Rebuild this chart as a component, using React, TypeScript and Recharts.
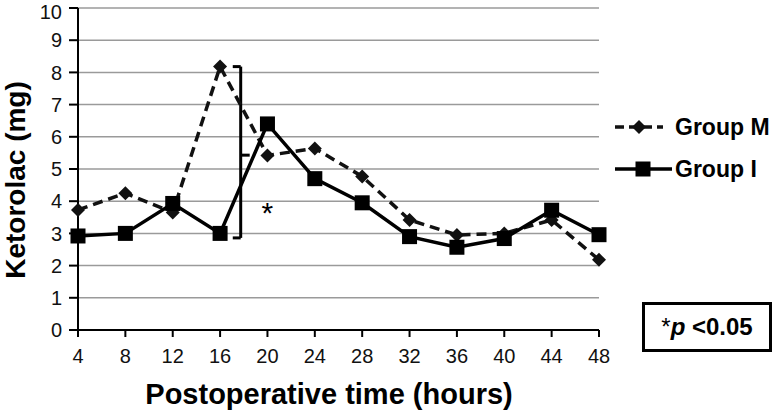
import React from 'react'
import {
  LineChart,
  Line,
  XAxis,
  YAxis,
  CartesianGrid,
  Legend,
  ReferenceLine,
  ReferenceDot,
  Customized,
} from 'recharts'

// postoperative hours
const hours = [4, 8, 12, 16, 20, 24, 28, 32, 36, 40, 44, 48]

// ketorolac consumption (mg)
const groupM = [3.73, 4.25, 3.65, 8.18, 5.42, 5.64, 4.77, 3.42, 2.95, 3.0, 3.42, 2.18]
const groupI = [2.92, 3.0, 3.93, 3.0, 6.4, 4.7, 3.95, 2.9, 2.57, 2.84, 3.72, 2.96]

const yTicks = [0, 1, 2, 3, 4, 5, 6, 7, 8, 9, 10]

const FONT = "'Liberation Sans', Arial, sans-serif"

const data = hours.map((h, i) => ({ hour: h, m: groupM[i], g: groupI[i] }))

const Diamond = ({ cx, cy }: any) => (
  <polygon
    points={`${cx},${cy - 7} ${cx + 7},${cy} ${cx},${cy + 7} ${cx - 7},${cy}`}
    fill="#111"
  />
)

const Square = ({ cx, cy }: any) => (
  <rect x={cx - 7.5} y={cy - 7.5} width={15} height={15} fill="#000" />
)

const LegendBox = () => (
  <svg width={162} height={90} style={{ display: 'block', overflow: 'visible' }}>
    <line x1={3} y1={27} x2={51} y2={27} stroke="#111" strokeWidth={3.5} strokeDasharray="9 5" />
    <Diamond cx={27} cy={27} />
    <text x={63} y={27} dy="0.355em" fontSize={23} fontWeight="bold" fontFamily={FONT} fill="#000">
      Group M
    </text>
    <line x1={3} y1={69} x2={60} y2={69} stroke="#000" strokeWidth={3.5} />
    <Square cx={31} cy={69} />
    <text x={63} y={69} dy="0.355em" fontSize={23} fontWeight="bold" fontFamily={FONT} fill="#000">
      Group I
    </text>
  </svg>
)

const Titles = () => (
  <g fontFamily={FONT} fontWeight="bold" fill="#000">
    <text x={25} y={180} transform="rotate(-90 25 180)" textAnchor="middle" fontSize={28}>
      Ketorolac (mg)
    </text>
    <text x={329} y={404} textAnchor="middle" fontSize={29}>
      Postoperative time (hours)
    </text>
  </g>
)

export default function App() {
  const tickStyle = { fontSize: 20, fill: '#111', fontFamily: FONT }
  const bracket = { stroke: '#000', strokeWidth: 3, ifOverflow: 'visible' as const }

  return (
    <div
      style={{
        position: 'absolute',
        left: 0,
        top: 0,
        width: 774,
        height: 410,
        background: '#fff',
        fontFamily: FONT,
      }}
    >
      <LineChart
        width={774}
        height={410}
        data={data}
        margin={{ top: 8, right: 175, bottom: 0, left: 0 }}
      >
        <CartesianGrid vertical={false} stroke="#9a9a9a" strokeWidth={1.5} />
        <XAxis
          dataKey="hour"
          type="number"
          domain={[4, 48]}
          ticks={hours}
          height={80}
          tick={tickStyle}
          tickSize={7}
          tickMargin={12}
          axisLine={{ stroke: '#000', strokeWidth: 2 }}
          tickLine={{ stroke: '#000', strokeWidth: 2 }}
        />
        <YAxis
          type="number"
          domain={[0, 10]}
          ticks={yTicks}
          width={78}
          tick={tickStyle}
          tickSize={9}
          tickMargin={7}
          axisLine={{ stroke: '#000', strokeWidth: 2 }}
          tickLine={{ stroke: '#000', strokeWidth: 2 }}
        />

        {/* significance bracket between 16 and 20 h */}
        <ReferenceLine {...bracket} segment={[{ x: 17.74, y: 8.18 }, { x: 17.74, y: 2.86 }]} />
        <ReferenceLine {...bracket} segment={[{ x: 17.07, y: 8.18 }, { x: 17.74, y: 8.18 }]} />
        <ReferenceLine {...bracket} segment={[{ x: 17.07, y: 2.86 }, { x: 17.74, y: 2.86 }]} />
        <ReferenceLine {...bracket} segment={[{ x: 17.74, y: 5.43 }, { x: 18.5, y: 5.43 }]} />
        <ReferenceDot
          x={20}
          y={3.65}
          r={0.1}
          fill="none"
          stroke="none"
          label={{ value: '*', position: 'center', fontSize: 30, fill: '#000', fontFamily: FONT }}
        />

        <Line
          dataKey="m"
          name="Group M"
          stroke="#111"
          strokeWidth={3.5}
          strokeDasharray="10 6"
          dot={(p: any) => <Diamond key={`m-${p.index}`} cx={p.cx} cy={p.cy} />}
          activeDot={false}
          isAnimationActive={false}
        />
        <Line
          dataKey="g"
          name="Group I"
          stroke="#000"
          strokeWidth={3.5}
          dot={(p: any) => <Square key={`i-${p.index}`} cx={p.cx} cy={p.cy} />}
          activeDot={false}
          isAnimationActive={false}
        />

        <Legend
          layout="horizontal"
          verticalAlign="middle"
          align="center"
          content={() => <LegendBox />}
          wrapperStyle={{ left: 612, top: 100, width: 162 }}
        />
        <Customized component={Titles} />
      </LineChart>

      <div
        style={{
          position: 'absolute',
          left: 642,
          top: 302,
          width: 130,
          height: 50,
          boxSizing: 'border-box',
          border: '3px solid #000',
          display: 'flex',
          alignItems: 'center',
          justifyContent: 'center',
          fontSize: 24,
          fontWeight: 'bold',
          color: '#000',
        }}
      >
        <span style={{ fontWeight: 'normal' }}>*</span>
        <span style={{ fontStyle: 'italic' }}>p</span>
        <span>&nbsp;&lt;0.05</span>
      </div>
    </div>
  )
}
